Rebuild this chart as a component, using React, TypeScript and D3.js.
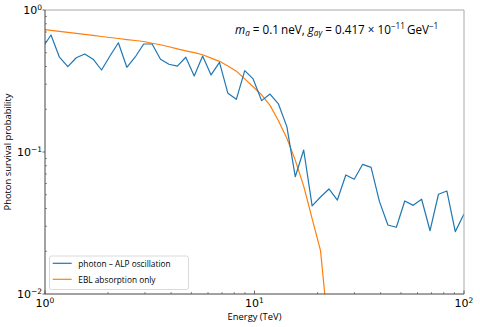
import React from "react";
import * as d3 from "d3";

// Energies (TeV) of the sampled grid
const energies = [
  0.974, 1.068, 1.172, 1.285, 1.41, 1.547, 1.697, 1.862, 2.042, 2.24,
  2.458, 2.696, 2.958, 3.245, 3.559, 3.905, 4.283, 4.699, 5.155, 5.655,
  6.204, 6.805, 7.466, 8.19, 8.984, 9.851, 10.81, 11.86, 13.01, 14.27,
  15.65, 17.17, 18.84, 20.66, 22.67, 24.86, 27.28, 29.92, 32.83, 36.01,
  39.5, 43.33, 47.54, 52.15, 57.21, 62.76, 68.85, 75.53, 82.86, 90.86, 100,
];

// photon - ALP oscillation survival probability
const alpProb = [
  0.543, 0.667, 0.465, 0.399, 0.461, 0.49, 0.45, 0.378, 0.474, 0.588,
  0.395, 0.467, 0.576, 0.576, 0.45, 0.415, 0.403, 0.465, 0.343, 0.474,
  0.349, 0.428, 0.259, 0.235, 0.374, 0.327, 0.23, 0.256, 0.218, 0.151,
  0.067, 0.1033, 0.0418, 0.0482, 0.0549, 0.0459, 0.0689, 0.0643, 0.0819, 0.078,
  0.0447, 0.0306, 0.0295, 0.0452, 0.0421, 0.0465, 0.0279, 0.0504, 0.0531, 0.0275,
  0.0366,
];

// EBL absorption only (first 35 energies)
const eblProb = [
  0.73, 0.718, 0.706, 0.695, 0.684, 0.673, 0.662, 0.651, 0.64, 0.63,
  0.619, 0.61, 0.6, 0.583, 0.569, 0.551, 0.533, 0.516, 0.501, 0.484,
  0.458, 0.435, 0.403, 0.371, 0.327, 0.288, 0.253, 0.213, 0.166, 0.125,
  0.0877, 0.0575, 0.0339, 0.0202, 0.005,
];

const xTicks = [1, 10, 100];
const xTickExp = ["0", "1", "2"];
const yTicks = [0.01, 0.1, 1];
const yTickExp = ["\u22122", "\u22121", "0"];
const seriesNames = ["photon \u2013 ALP oscillation", "EBL absorption only"];
const seriesColors = ["#1f77b4", "#ff7f0e"];

const W = 480;
const H = 327;
const L = 45, R = 464, T = 10, B = 294;

export default function App() {
  const x = d3.scaleLog().domain([1, 100]).range([L, R]);
  const y = d3.scaleLog().domain([0.01, 1]).range([B, T]);

  const line = d3
    .line<[number, number]>()
    .x((d) => x(d[0]))
    .y((d) => y(d[1]));

  const alpData: [number, number][] = alpProb.map((p, i) => [energies[i], p]);
  const eblData: [number, number][] = eblProb.map((p, i) => [energies[i], p]);

  const xMinor: number[] = [];
  [1, 10].forEach((dec) => {
    for (let m = 2; m <= 9; m++) xMinor.push(dec * m);
  });
  const yMinor: number[] = [];
  [0.01, 0.1].forEach((dec) => {
    for (let m = 2; m <= 9; m++) yMinor.push(dec * m);
  });

  const mathFont = "DejaVu Sans";
  const textFont = "Open Sans";

  return (
    <svg
      width={W}
      height={H}
      style={{ position: "absolute", left: 0, top: 0, background: "#fff" }}
    >
      <defs>
        <clipPath id="plotclip">
          <rect x={L} y={T} width={R - L} height={B - T} />
        </clipPath>
      </defs>
      <rect x={0} y={0} width={W} height={H} fill="#fff" />

      <g clipPath="url(#plotclip)" fill="none" strokeWidth={1.2} strokeLinejoin="round">
        <path d={line(eblData) || ""} stroke={seriesColors[1]} />
        <path d={line(alpData) || ""} stroke={seriesColors[0]} />
      </g>

      {/* spines */}
      <line x1={L} x2={R} y1={T} y2={T} stroke="#a8a8a8" strokeWidth={1} />
      <line x1={R} x2={R} y1={T} y2={B} stroke="#a8a8a8" strokeWidth={1} />
      <line x1={L} x2={L} y1={T} y2={B} stroke="#444" strokeWidth={1} />
      <line x1={L} x2={R} y1={B} y2={B} stroke="#444" strokeWidth={1} />

      {/* ticks */}
      {xMinor.map((v) => (
        <line key={"xm" + v} x1={x(v)} x2={x(v)} y1={B} y2={B - 2} stroke="#444" strokeWidth={0.6} />
      ))}
      {xTicks.map((v) => (
        <line key={"xM" + v} x1={x(v)} x2={x(v)} y1={B} y2={B - 3.5} stroke="#444" strokeWidth={0.8} />
      ))}
      {yMinor.map((v) => (
        <line key={"ym" + v} x1={L} x2={L + 2} y1={y(v)} y2={y(v)} stroke="#444" strokeWidth={0.6} />
      ))}
      {yTicks.map((v) => (
        <line key={"yM" + v} x1={L} x2={L - 2.5} y1={y(v)} y2={y(v)} stroke="#444" strokeWidth={0.8} />
      ))}

      {/* tick labels */}
      {xTicks.map((v, i) => (
        <text key={"xl" + v} x={x(v)} y={307} fontFamily={mathFont} fontSize={11} textAnchor="middle" fill="#000">
          10<tspan fontSize={7.5} dy={-4.5}>{xTickExp[i]}</tspan>
        </text>
      ))}
      {yTicks.map((v, i) => (
        <text key={"yl" + v} x={42} y={y(v) + 4} fontFamily={mathFont} fontSize={11} textAnchor="end" fill="#000">
          10<tspan fontSize={7.5} dy={-4.5}>{yTickExp[i]}</tspan>
        </text>
      ))}

      {/* axis labels */}
      <text x={(L + R) / 2} y={320} fontFamily={textFont} fontSize={9.4} textAnchor="middle" fill="#000">
        Energy (TeV)
      </text>
      <text
        transform={`translate(11, ${(T + B) / 2}) rotate(-90)`}
        fontFamily={textFont}
        fontSize={9.4}
        textAnchor="middle"
        fill="#000"
      >
        Photon survival probability
      </text>

      {/* annotation */}
      <text x={235} y={34} fontFamily={textFont} fontSize={11.7} fill="#000">
        <tspan fontStyle="italic">m</tspan>
        <tspan fontStyle="italic" fontSize={8.2} dy={2.3}>a</tspan>
        <tspan dy={-2.3}>{" = 0.1\u2009neV, "}</tspan>
        <tspan fontStyle="italic">g</tspan>
        <tspan fontStyle="italic" fontSize={8.2} dy={2.3}>{"a\u03b3"}</tspan>
        <tspan dy={-2.3}>{" = 0.417 \u00d7 10"}</tspan>
        <tspan fontSize={8.2} dy={-4.6}>{"\u221211"}</tspan>
        <tspan dy={4.6}>{"\u2009GeV"}</tspan>
        <tspan fontSize={8.2} dy={-4.6}>{"\u22121"}</tspan>
      </text>

      {/* legend */}
      <rect x={49.5} y={256} width={139} height={33.5} rx={2} fill="#fff" fillOpacity={0.8} stroke="#d0d0d0" strokeWidth={0.8} />
      {seriesNames.map((name, i) => (
        <g key={name}>
          <line x1={52.7} x2={71.7} y1={263.3 + i * 16} y2={263.3 + i * 16} stroke={seriesColors[i]} strokeWidth={1.2} />
          <text x={78.3} y={266.5 + i * 16} fontFamily={textFont} fontSize={8.3} fill="#000">
            {name}
          </text>
        </g>
      ))}
    </svg>
  );
}
